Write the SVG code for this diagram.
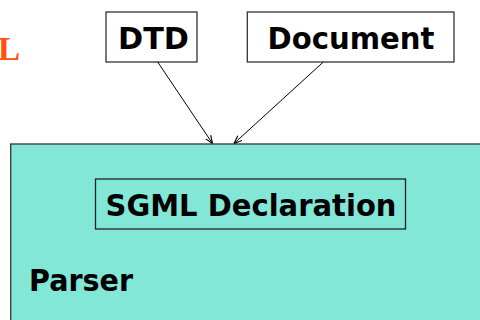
<svg xmlns="http://www.w3.org/2000/svg" width="480" height="320" viewBox="0 0 480 320">
  <defs>
    <style>
      .box { fill: #ffffff; stroke: #333333; stroke-width: 1.3; }
      .lbl { font-family: "DejaVu Sans", sans-serif; font-weight: bold; font-size: 30px; fill: #000000; }
      .edge { stroke: #000000; stroke-width: 1; fill: none; marker-end: url(#arrow); }
    </style>
    <marker id="arrow" viewBox="0 0 10 10" refX="10" refY="5" markerWidth="8" markerHeight="8" markerUnits="userSpaceOnUse" orient="auto">
      <path d="M0,1 L10,5 L0,9" fill="none" stroke="#000000" stroke-width="1.4"/>
    </marker>
  </defs>
  <rect width="480" height="320" fill="#ffffff"/>

  <!-- title fragment at the left edge -->
  <text x="20" y="60" text-anchor="end" font-family="Liberation Serif, serif" font-weight="bold" font-size="33" fill="#ff5010">L</text>

  <g id="parser">
    <rect x="10.7" y="144" width="480" height="190" fill="#82e7d7" stroke="#333333" stroke-width="1.3"/>
    <text class="lbl" x="29" y="291" textLength="104" lengthAdjust="spacingAndGlyphs">Parser</text>
  </g>

  <g id="sgml-declaration">
    <rect x="95.5" y="179" width="310" height="50" fill="none" stroke="#222222" stroke-width="1.3"/>
    <text class="lbl" x="251" y="216" text-anchor="middle" textLength="291" lengthAdjust="spacingAndGlyphs">SGML Declaration</text>
  </g>

  <g id="dtd">
    <rect class="box" x="106" y="12" width="91" height="50"/>
    <text class="lbl" x="153.5" y="49" text-anchor="middle" textLength="71" lengthAdjust="spacingAndGlyphs">DTD</text>
  </g>

  <g id="document">
    <rect class="box" x="247.3" y="12" width="206.7" height="50"/>
    <text class="lbl" x="351" y="49" text-anchor="middle" textLength="167" lengthAdjust="spacingAndGlyphs">Document</text>
  </g>

  <g id="connectors">
    <line class="edge" x1="157.7" y1="62" x2="212.5" y2="143.5"/>
    <line class="edge" x1="323.3" y1="62" x2="234" y2="143.5"/>
  </g>
</svg>
